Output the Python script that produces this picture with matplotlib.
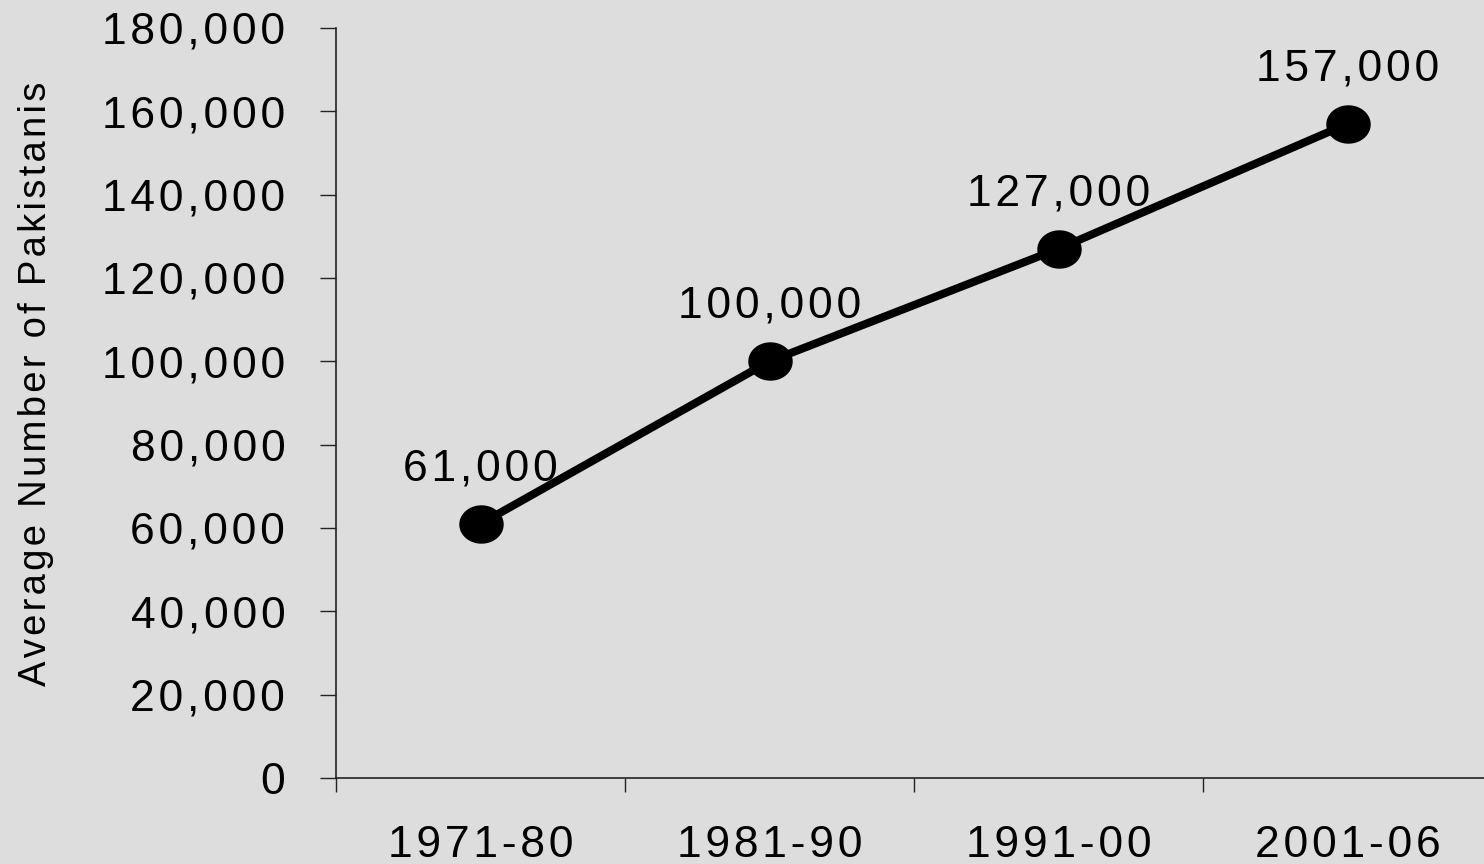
import matplotlib
matplotlib.use("Agg")
import matplotlib.pyplot as plt
import numpy as np
from matplotlib.path import Path
from matplotlib.ticker import FixedLocator, NullFormatter

categories = ["1971-80", "1981-90", "1991-00", "2001-06"]
values = [61000, 100000, 127000, 157000]
y_ticks = [0, 20000, 40000, 60000, 80000, 100000, 120000, 140000, 160000, 180000]
y_label = "Average Number of Pakistanis"

HSP = "\u200a"


def spaced(s, sp=HSP):
    return sp.join(list(s))


plt.rcParams['font.family'] = ['Liberation Sans', 'DejaVu Sans']

W, H = 1484, 864
fig = plt.figure(figsize=(W / 100, H / 100), dpi=100)
bg = "#dddddd"
fig.patch.set_facecolor(bg)

left, right, top, bottom = 336, 1492, 28, 778
ax = fig.add_axes([left / W, 1 - bottom / H, (right - left) / W, (bottom - top) / H])
ax.set_facecolor(bg)

x = np.arange(len(categories))
t = np.linspace(0, 2 * np.pi, 60)
ell = Path(np.column_stack([np.cos(t), 0.86 * np.sin(t)]), closed=True)

ax.plot(x, values, color="black", lw=5.8, marker=ell, markersize=31,
        markerfacecolor="black", markeredgecolor="black", solid_capstyle="butt", zorder=3)

FS = 32
for xi, v in zip(x, values):
    ax.annotate(spaced(f"{v:,}"), (xi, v), xytext=(0, 31.5), textcoords="offset points",
                ha="center", va="baseline", fontsize=FS, color="black")

ax.set_xlim(-0.5, len(categories) - 0.5)
ax.set_ylim(0, 180000)

ax.set_yticks(y_ticks)
ax.set_yticklabels([spaced(f"{v:,}") for v in y_ticks])

ax.xaxis.set_major_locator(FixedLocator(np.arange(-0.5, len(categories) - 0.5, 1.0)))
ax.xaxis.set_major_formatter(NullFormatter())
ax.xaxis.set_minor_locator(FixedLocator(x))
ax.set_xticklabels([spaced(c) for c in categories], minor=True)

ax.tick_params(axis="y", direction="out", length=11.5, width=1.0, color="#222222",
               labelsize=FS, pad=25)
ax.tick_params(axis="x", which="major", direction="out", length=10, width=1.0, color="#222222")
ax.tick_params(axis="x", which="minor", length=0, labelsize=FS, pad=34)

for s in ["top", "right"]:
    ax.spines[s].set_visible(False)
for s in ["left", "bottom"]:
    ax.spines[s].set_color("#222222")
    ax.spines[s].set_linewidth(1.2)

ax.set_ylabel(spaced(y_label, HSP), fontsize=27.5)
ax.yaxis.set_label_coords((54 - left) / (right - left), (bottom - 384) / (bottom - top))

fig.savefig("out.png", dpi=100, facecolor=bg)
